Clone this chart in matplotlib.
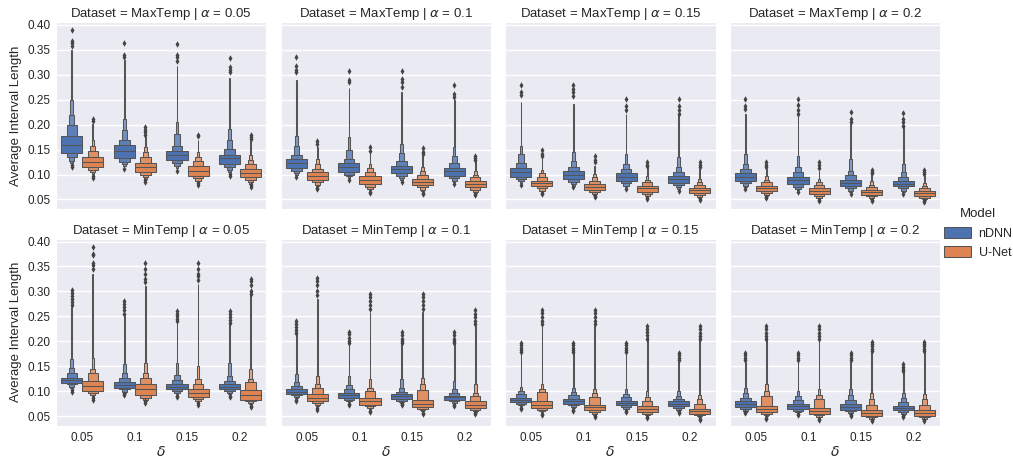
import numpy as np
import matplotlib
matplotlib.use("Agg")
import matplotlib.pyplot as plt
import seaborn as sns
from matplotlib.patches import Rectangle, Patch
from matplotlib.colors import to_rgb

sns.set_style("darkgrid")
plt.rcParams["font.family"] = ["Liberation Sans", "DejaVu Sans"]

alphas = ["0.05", "0.1", "0.15", "0.2"]
deltas = ["0.05", "0.1", "0.15", "0.2"]
datasets = ["MaxTemp", "MinTemp"]
models = ["nDNN", "U-Net"]

# letter values per box: rows = alpha, cols = delta
# levels are (lower, upper) pairs from the inner box outward
MAX_NDNN_MED = [[.159, .148, .140, .134], [.123, .116, .111, .107],
                [.106, .100, .096, .091], [.096, .090, .084, .082]]
MAX_NDNN_LV = [
    [[(.144, .177), (.135, .199), (.128, .220), (.124, .250)],
     [(.134, .159), (.126, .169), (.122, .189), (.118, .212)],
     [(.130, .147), (.123, .157), (.117, .182), (.113, .205)],
     [(.122, .140), (.115, .152), (.110, .170), (.106, .192)]],
    [[(.113, .132), (.108, .140), (.103, .157), (.099, .178)],
     [(.106, .123), (.100, .132), (.097, .149), (.094, .176)],
     [(.103, .118), (.097, .127), (.093, .143), (.089, .162)],
     [(.098, .113), (.093, .123), (.088, .138), (.085, .155)]],
    [[(.096, .113), (.092, .123), (.087, .142), (.084, .157)],
     [(.092, .107), (.086, .116), (.081, .128), (.078, .145)],
     [(.088, .103), (.083, .112), (.078, .122), (.075, .142)],
     [(.083, .097), (.079, .105), (.075, .116), (.071, .135)]],
    [[(.088, .103), (.083, .112), (.078, .122), (.075, .142)],
     [(.081, .096), (.076, .105), (.071, .115), (.069, .138)],
     [(.077, .089), (.073, .099), (.068, .108), (.065, .132)],
     [(.077, .088), (.073, .095), (.068, .105), (.065, .122)]],
]
MAX_NDNN_TAIL = [[.350, .330, .318, .293], [.289, .273, .266, .249],
                 [.246, .242, .222, .219], [.222, .219, .202, .199]]
MAX_NDNN_OUT = [
    [[.389, .368, .363, .358], [.363, .340, .335], [.362, .340, .335, .328], [.334, .316, .310, .306]],
    [[.335, .317, .310, .306], [.308, .290, .285], [.308, .292, .285, .275], [.279, .262, .255]],
    [[.279, .265, .260], [.279, .272, .265, .258], [.252, .237, .230], [.252, .237, .230, .222]],
    [[.252, .237, .231], [.252, .240, .230, .222], [.226, .212, .206], [.223, .212, .205, .198]],
]
MAX_NDNN_LOW = [
    [[.120, .116], [.112], [.108], [.101, .098]],
    [[.095], [.090], [.085], [.081]],
    [[.080], [.075], [.071], [.067]],
    [[.071], [.065], [.061], [.061]],
]

MAX_UNET_MED = [[.125, .115, .108, .103], [.098, .090, .085, .081],
                [.083, .076, .073, .069], [.073, .068, .065, .063]]
MAX_UNET_LV = [
    [[(.115, .135), (.110, .148), (.105, .157), (.101, .170)],
     [(.105, .123), (.100, .135), (.095, .145), (.092, .155)],
     [(.098, .117), (.093, .127), (.088, .135), (.085, .145)],
     [(.095, .112), (.090, .122), (.085, .130), (.082, .140)]],
    [[(.089, .105), (.085, .112), (.080, .122), (.077, .132)],
     [(.081, .098), (.076, .106), (.071, .113), (.069, .122)],
     [(.079, .091), (.075, .100), (.070, .107), (.068, .115)],
     [(.075, .087), (.070, .095), (.066, .100), (.064, .108)]],
    [[(.078, .088), (.073, .096), (.068, .103), (.066, .110)],
     [(.070, .081), (.065, .088), (.061, .095), (.059, .102)],
     [(.066, .078), (.061, .085), (.057, .090), (.055, .097)],
     [(.063, .073), (.058, .080), (.055, .085), (.053, .092)]],
    [[(.067, .078), (.063, .085), (.058, .090), (.056, .097)],
     [(.061, .073), (.057, .080), (.053, .085), (.051, .092)],
     [(.059, .069), (.056, .076), (.052, .080), (.050, .087)],
     [(.057, .067), (.053, .073), (.050, .078), (.048, .084)]],
]
MAX_UNET_TAIL = [[.202, .175, .170, .168], [.155, .145, .138, .128],
                 [.135, .118, .115, .112], [.112, .108, .102, .098]]
MAX_UNET_OUT = [
    [[.212, .207], [.195, .190, .185, .180], [.180, .177], [.180, .176, .172]],
    [[.168, .162], [.155, .148], [.154, .146, .142], [.138, .134, .130]],
    [[.150, .142, .138], [.137, .130, .125], [.125, .120, .117], [.125, .120, .116]],
    [[.125, .120, .115], [.125, .120, .114], [.110, .106, .103], [.110, .106, .102]],
]
MAX_UNET_LOW = [
    [[.097, .093], [.089, .085], [.083, .080], [.079, .075]],
    [[.074, .071], [.066, .063], [.064, .062], [.060, .058]],
    [[.063, .061], [.057, .055], [.053, .051], [.050, .048]],
    [[.054, .052], [.049, .047], [.048, .046], [.046, .044]],
]

MIN_NDNN_MED = [[.122, .113, .109, .109], [.099, .092, .090, .088],
                [.083, .080, .077, .075], [.075, .070, .069, .067]]
MIN_NDNN_LV = [
    [[(.117, .127), (.114, .137), (.109, .147), (.106, .164)],
     [(.107, .118), (.104, .127), (.099, .137), (.097, .154)],
     [(.104, .114), (.100, .122), (.096, .132), (.094, .157)],
     [(.104, .114), (.100, .120), (.096, .130), (.094, .157)]],
    [[(.095, .104), (.092, .110), (.088, .118), (.086, .134)],
     [(.087, .096), (.083, .104), (.080, .112), (.078, .131)],
     [(.085, .094), (.081, .099), (.078, .107), (.076, .124)],
     [(.083, .091), (.080, .097), (.077, .104), (.075, .120)]],
    [[(.079, .087), (.075, .094), (.072, .100), (.070, .109)],
     [(.075, .085), (.072, .092), (.069, .099), (.067, .107)],
     [(.072, .081), (.069, .088), (.065, .094), (.063, .105)],
     [(.070, .080), (.067, .085), (.063, .091), (.061, .100)]],
    [[(.068, .080), (.065, .086), (.061, .096), (.059, .106)],
     [(.065, .075), (.061, .082), (.058, .090), (.056, .101)],
     [(.063, .075), (.060, .082), (.056, .092), (.054, .104)],
     [(.062, .071), (.058, .078), (.055, .087), (.053, .097)]],
]
MIN_NDNN_TAIL = [[.268, .251, .238, .234], [.215, .194, .194, .194],
                 [.177, .177, .177, .158], [.158, .158, .158, .138]]
MIN_NDNN_OUT = [
    [[.302, .297, .290, .285, .278, .272], [.280, .275, .268, .262, .255],
     [.260, .255, .250, .245, .240], [.260, .255, .248, .242, .236]],
    [[.241, .234, .228, .222, .217], [.219, .214, .206, .200, .196],
     [.219, .212, .205, .200, .196], [.219, .212, .205, .200, .196]],
    [[.197, .192, .187, .182, .178], [.197, .192, .187, .182, .178],
     [.197, .192, .187, .182, .178], [.177, .172, .167, .162]],
    [[.177, .172, .167, .162], [.177, .172, .167, .162],
     [.177, .172, .167, .162], [.154, .149, .145, .140]],
]
MIN_NDNN_LOW = [
    [[.102, .099], [.094, .092], [.091, .089], [.091, .088]],
    [[.083, .081], [.074, .072], [.074, .072], [.072, .070]],
    [[.066, .064], [.063, .061], [.061, .059], [.059, .057]],
    [[.058, .056], [.054, .052], [.052, .050], [.051, .049]],
]

MIN_UNET_MED = [[.110, .104, .097, .093], [.087, .081, .075, .073],
                [.073, .068, .065, .061], [.065, .060, .057, .057]]
MIN_UNET_LV = [
    [[(.100, .120), (.096, .137), (.092, .144), (.089, .167)],
     [(.092, .114), (.087, .127), (.083, .137), (.081, .157)],
     [(.088, .104), (.085, .114), (.081, .124), (.078, .150)],
     [(.083, .102), (.080, .118), (.077, .124), (.074, .144)]],
    [[(.080, .094), (.077, .107), (.073, .114), (.070, .131)],
     [(.073, .087), (.070, .100), (.067, .107), (.064, .124)],
     [(.068, .083), (.065, .102), (.062, .114), (.060, .127)],
     [(.066, .080), (.063, .090), (.060, .097), (.058, .114)]],
    [[(.066, .080), (.063, .098), (.060, .105), (.058, .114)],
     [(.062, .073), (.059, .088), (.055, .097), (.053, .105)],
     [(.059, .070), (.055, .081), (.052, .088), (.050, .100)],
     [(.055, .065), (.052, .075), (.050, .085), (.048, .093)]],
    [[(.059, .071), (.055, .090), (.052, .100), (.050, .114)],
     [(.055, .067), (.052, .085), (.049, .093), (.047, .104)],
     [(.051, .062), (.049, .072), (.045, .085), (.044, .097)],
     [(.051, .062), (.049, .072), (.045, .084), (.044, .095)]],
]
MIN_UNET_TAIL = [[.335, .311, .315, .298], [.285, .258, .258, .231],
                 [.231, .231, .211, .211], [.211, .211, .184, .184]]
MIN_UNET_OUT = [
    [[.389, .375, .372, .357, .352, .345], [.357, .344, .335, .325, .318],
     [.357, .344, .335, .330, .322], [.325, .320, .312, .300, .295]],
    [[.326, .320, .312, .300, .292], [.295, .288, .280, .272, .265],
     [.295, .288, .280, .272, .265], [.263, .255, .248, .240, .234]],
    [[.263, .256, .248, .240, .234], [.263, .256, .248, .240, .234],
     [.231, .224, .218, .212, .205], [.231, .224, .217, .210, .204]],
    [[.231, .224, .217, .210, .204], [.231, .224, .217, .210, .204],
     [.199, .194, .190, .185, .180], [.199, .194, .190, .185, .180]],
]
MIN_UNET_LOW = [
    [[.086, .083], [.080, .077], [.076, .073], [.071, .068]],
    [[.066, .063], [.060, .058], [.057, .055], [.057, .055]],
    [[.055, .053], [.050, .048], [.049, .047], [.045, .043]],
    [[.047, .045], [.045, .043], [.042, .040], [.042, .040]],
]

SERIES = {
    ("MaxTemp", "nDNN"): (MAX_NDNN_MED, MAX_NDNN_LV, MAX_NDNN_TAIL, MAX_NDNN_OUT, MAX_NDNN_LOW),
    ("MaxTemp", "U-Net"): (MAX_UNET_MED, MAX_UNET_LV, MAX_UNET_TAIL, MAX_UNET_OUT, MAX_UNET_LOW),
    ("MinTemp", "nDNN"): (MIN_NDNN_MED, MIN_NDNN_LV, MIN_NDNN_TAIL, MIN_NDNN_OUT, MIN_NDNN_LOW),
    ("MinTemp", "U-Net"): (MIN_UNET_MED, MIN_UNET_LV, MIN_UNET_TAIL, MIN_UNET_OUT, MIN_UNET_LOW),
}

palette = {"nDNN": "#4c72b0", "U-Net": "#dd8452"}
gray = "#555555"


def lighten(color, f):
    c = np.array(to_rgb(color))
    return tuple(c + (1 - c) * f)


def boxen(ax, x, w, color, med, levels, tail, out_hi, out_lo):
    lw = 0.75
    # thin tail down to the outliers, drawn first so the level boxes cover it
    tw = w * 0.035
    top = levels[-1][1]
    bottom = levels[-1][0]
    ax.add_patch(Rectangle((x - tw / 2, top), tw, tail - top,
                           facecolor=lighten(color, 0.4), edgecolor=gray, lw=lw, zorder=2))
    if out_lo:
        ax.plot([x, x], [max(out_lo) + 0.002, bottom], color=gray, lw=lw, zorder=2)
    n = len(levels)
    for i in reversed(range(n)):
        lo, hi = levels[i]
        bw = w * 0.5 ** i
        ax.add_patch(Rectangle((x - bw / 2, lo), bw, hi - lo,
                               facecolor=lighten(color, 0.1 * i), edgecolor=gray, lw=lw, zorder=2))
    ax.plot([x - w / 2, x + w / 2], [med, med], color=gray, lw=lw, zorder=3)
    pts = list(out_hi) + list(out_lo)
    ax.scatter([x] * len(pts), pts, marker="d", s=11, color="#444444", zorder=4, linewidths=0)


fig, axes = plt.subplots(2, 4, figsize=(10.13, 4.58), dpi=100, sharex=True, sharey=True)
fig.subplots_adjust(left=0.0553, right=0.928, bottom=0.0699, top=0.952, wspace=0.067, hspace=0.155)

width = 0.4
for r, ds in enumerate(datasets):
    for a, alpha in enumerate(alphas):
        ax = axes[r, a]
        for m, model in enumerate(models):
            med, lv, tail, out, low = SERIES[(ds, model)]
            offset = -0.2 if m == 0 else 0.2
            for d in range(len(deltas)):
                boxen(ax, d + offset, width, palette[model], med[a][d], lv[a][d],
                      tail[a][d], out[a][d], low[a][d])
        ax.set_title(f"Dataset = {ds} | $\\alpha$ = {alpha}", fontsize=9.5, pad=3)
        ax.set_xlim(-0.5, 3.5)
        ax.set_ylim(0.030, 0.406)
        ax.set_xticks(range(len(deltas)))
        ax.set_xticklabels(deltas)
        ax.set_yticks([0.05, 0.10, 0.15, 0.20, 0.25, 0.30, 0.35, 0.40])
        ax.yaxis.set_major_formatter(plt.FormatStrFormatter("%.2f"))
        ax.tick_params(labelsize=8.5, length=0, pad=4)
        ax.grid(axis="x", visible=False)
        ax.grid(axis="y", color="white", lw=1)
        if a == 0:
            ax.set_ylabel("Average Interval Length", fontsize=9.5, labelpad=4)
        if r == 1:
            ax.set_xlabel("$\\delta$", fontsize=10, labelpad=1)

handles = [Patch(facecolor=palette[m], edgecolor=gray, lw=0.75, label=m) for m in models]
fig.legend(handles=handles, title="Model", loc="center left", bbox_to_anchor=(0.929, 0.49),
           frameon=False, fontsize=9, title_fontsize=9.5, handlelength=2.2, handleheight=1.0,
           handletextpad=0.6, borderaxespad=0, borderpad=0.2)

fig.savefig("out.png", dpi=100)
